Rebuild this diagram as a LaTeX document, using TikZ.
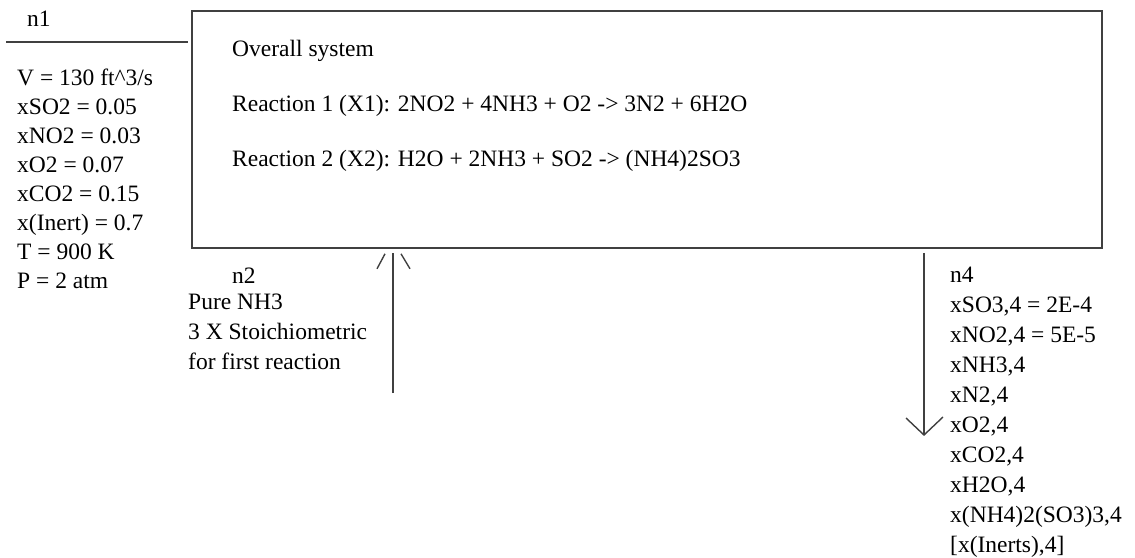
\documentclass[tikz,border=0pt]{standalone}
\usepackage{fontspec}
\setmainfont{Liberation Serif}
\usetikzlibrary{positioning, calc}

\tikzset{
  txt/.style={inner sep=0pt, align=left, font=\fontsize{23.5}{29}\selectfont},
  flow/.style={draw=black!75, line width=1.4pt},
}

\begin{document}
\begin{tikzpicture}[x=1pt, y=-1pt]
    \useasboundingbox (0,0) rectangle (1135,557);

    % overall system box
    \node[draw=black!75, line width=1.6pt, minimum width=910pt, minimum height=237pt, inner sep=0pt] (sys) at (647,129.5) {};
    \node[txt, anchor=base west] (title) at (232,56) {Overall system};
    \node[txt, anchor=base west] (rxn1) at (232,111) {Reaction 1 (X1): 2NO2 + 4NH3 + O2 -> 3N2 + 6H2O};
    \node[txt, anchor=base west] (rxn2) at (232,166) {Reaction 2 (X2): H2O + 2NH3 + SO2 -> (NH4)2SO3};

    % stream 1
    \node[txt, anchor=base west] (n1) at (27,26) {n1};
    \coordinate (n1a) at (6,42);
    \coordinate (n1b) at (188,42);
    \draw[flow] (n1a) -- (n1b);
    \node[txt, anchor=north west] (feed) at (17,68.5) {%
      V = 130 ft\^{}3/s\\
      xSO2 = 0.05\\
      xNO2 = 0.03\\
      xO2 = 0.07\\
      xCO2 = 0.15\\
      x(Inert) = 0.7\\
      T = 900 K\\
      P = 2 atm};

    % stream 2
    \node[txt, anchor=base west] (n2) at (232,283) {n2};
    \node[txt, anchor=north west, font=\fontsize{23.5}{30}\selectfont] (nh3) at (188,294) {%
      Pure NH3\\
      3 X Stoichiometric\\
      for first reaction};
    \coordinate (n2in) at (393,393);
    \coordinate (n2tip) at ($(sys.south -| n2in)+(0,4)$);
    \draw[flow] (n2in) -- (n2tip);
    \draw[flow] ($(n2tip)+(-16,16)$) -- ($(n2tip)+(-8,1)$);
    \draw[flow] ($(n2tip)+(8,1)$) -- ($(n2tip)+(17,16)$);

    % stream 4
    \coordinate (n4top) at ($(sys.south -| 924,0)+(0,4)$);
    \coordinate (n4out) at (924,435);
    \draw[flow] (n4top) -- (n4out);
    \draw[flow] ($(n4out)+(-18,-17)$) -- (n4out) -- ($(n4out)+(19,-18)$);
    \node[txt, anchor=north west, font=\fontsize{23.5}{30}\selectfont] (prod) at (950,267) {%
      n4\\
      xSO3,4 = 2E-4\\
      xNO2,4 = 5E-5\\
      xNH3,4\\
      xN2,4\\
      xO2,4\\
      xCO2,4\\
      xH2O,4\\
      x(NH4)2(SO3)3,4\\
      {[x(Inerts),4]}};
\end{tikzpicture}
\end{document}
